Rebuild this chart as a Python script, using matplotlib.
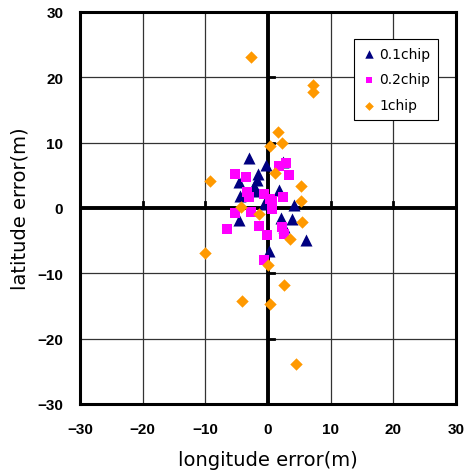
import matplotlib
matplotlib.use("Agg")
import matplotlib.pyplot as plt

# 0.1chip (triangles)
tri_x = [-3.1, -0.4, 2.4, -1.6, -1.8, -4.7, -2.2, -2.0, -4.4, 1.8, -0.6, 4.2, -4.6, 2.1, 3.8, 2.6, 6.1, 0.1]
tri_y = [7.6, 6.6, 7.0, 5.2, 4.2, 4.0, 3.3, 2.6, 1.9, 2.8, 0.6, 0.4, -1.8, -1.5, -1.7, -2.9, -4.9, -6.6]
# 0.2chip (squares)
sq_x = [1.7, 2.8, -5.2, -3.5, 3.3, -3.3, -3.1, -0.6, 2.4, 0.3, 0.7, 0.6, -5.2, -2.7, -1.4, 2.2, 2.6, -6.6, -0.2, -0.6]
sq_y = [6.4, 6.8, 5.2, 4.7, 5.1, 2.4, 1.6, 2.1, 1.7, 1.3, 1.0, -0.2, -0.8, -0.6, -2.8, -2.9, -4.0, -3.3, -4.2, -8.0]
# 1chip (diamonds)
dia_x = [-2.8, 7.1, 7.2, 1.6, 0.3, 2.3, 1.1, -9.3, 5.3, 5.2, -4.3, -1.5, 5.4, 3.5, -10.1, 0.0, 2.5, -4.2, 0.3, 4.4]
dia_y = [23.1, 18.8, 17.8, 11.6, 9.4, 9.9, 5.3, 4.1, 3.3, 1.1, 0.1, -0.9, -2.1, -4.7, -6.9, -8.8, -11.8, -14.2, -14.7, -23.9]

ticks = [-30, -20, -10, 0, 10, 20, 30]
labels = ["0.1chip", "0.2chip", "1chip"]

fig = plt.figure(figsize=(4.65, 4.77), dpi=100)
ax = fig.add_axes([0.172, 0.151, 0.809, 0.822])
ax.set_xlim(-30, 30)
ax.set_ylim(-30, 30)
ax.set_xticks(ticks)
ax.set_yticks(ticks)
ax.set_xticklabels([str(t).replace('-', '\u2212') for t in ticks], fontweight='bold', fontsize=11, family='Liberation Sans')
ax.set_yticklabels([str(t).replace('-', '\u2212') for t in ticks], fontweight='bold', fontsize=11, family='Liberation Sans')
ax.tick_params(axis='x', length=0, pad=13)
ax.tick_params(axis='y', length=0, pad=12)
ax.grid(True, color='#333333', lw=0.9)
ax.set_axisbelow(True)
for s in ax.spines.values():
    s.set_linewidth(2.2)
ax.axhline(0, color='black', lw=2.8, zorder=1.5)
ax.axvline(0, color='black', lw=2.8, zorder=1.5)
# small tick marks on the zero axes
for t in ticks[1:-1]:
    if t != 0:
        ax.plot([0, 0.9], [t, t], color='black', lw=2, zorder=1.5)
        ax.plot([t, t], [0, 0.9], color='black', lw=2, zorder=1.5)

ax.scatter(tri_x, tri_y, marker='^', s=75, color='#000080', label=labels[0], zorder=3, linewidths=0)
ax.scatter(sq_x, sq_y, marker='s', s=50, color='#FF00FF', label=labels[1], zorder=3, linewidths=0)
ax.scatter(dia_x, dia_y, marker='D', s=40, color='#FF9900', label=labels[2], zorder=3, linewidths=0)

leg = ax.legend(loc='upper right', bbox_to_anchor=(0.952, 0.931), borderaxespad=0, frameon=True,
                fancybox=False, edgecolor='black', framealpha=1, handletextpad=0.2,
                borderpad=0.55, labelspacing=0.85, handlelength=1.1, markerscale=0.7,
                prop={'family': 'DejaVu Sans', 'size': 10})
leg.get_frame().set_linewidth(0.8)

ax.set_xlabel('longitude error(m)', fontsize=14, labelpad=10)
ax.set_ylabel('latitude error(m)', fontsize=14, labelpad=6)

fig.savefig('out.png', dpi=100)
